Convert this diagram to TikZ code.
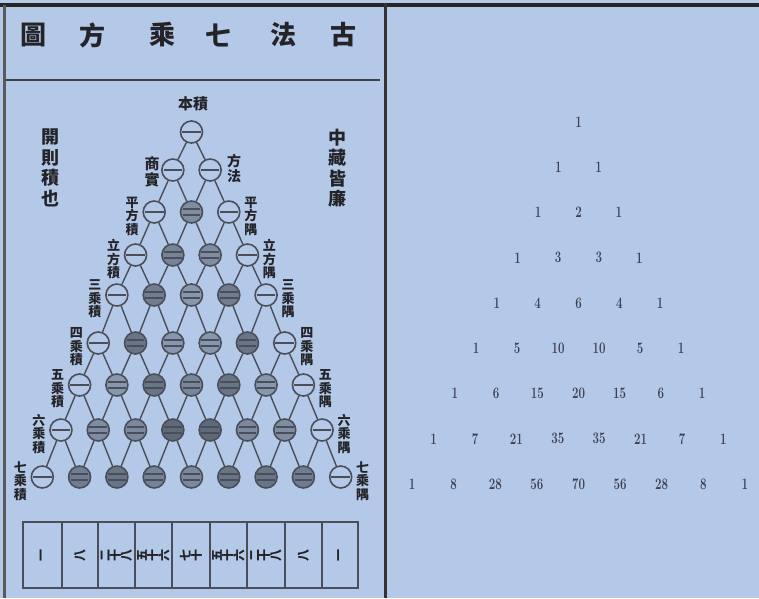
\documentclass[tikz,border=0pt]{standalone}
\usepackage{fontspec}
\usepackage{graphicx}
\newfontfamily\cjk{Noto Sans CJK TC}
\definecolor{bg}{RGB}{180,201,232}
\definecolor{ink}{RGB}{35,35,40}
\definecolor{lineg}{RGB}{75,78,88}
\definecolor{numc}{RGB}{60,64,80}
\begin{document}
\begin{tikzpicture}[x=1pt,y=-1pt,
  cell/.style={circle,draw=lineg,line width=1.6pt,minimum size=22pt,inner sep=0pt},
  conn/.style={draw=lineg,line width=1.4pt},
  han/.style={text=ink,font=\cjk\bfseries,inner sep=0pt},
  title/.style={han,font=\cjk\bfseries\fontsize{26}{26}\selectfont},
  lab/.style={han,font=\cjk\bfseries\fontsize{13}{13.5}\selectfont,align=center},
  side/.style={han,font=\cjk\bfseries\fontsize{18}{20.5}\selectfont,align=center},
  num/.style={text=numc,font=\bfseries\fontsize{16}{16}\selectfont,inner sep=0pt},
  frame/.style={draw=lineg,line width=1.8pt}]
\fill[bg] (0,0) rectangle (759,598);
\useasboundingbox (0,0) rectangle (759,598);
% borders
\draw[black!85,line width=4pt] (0,5) -- (759,5);
\draw[gray!70!black,line width=3pt] (4.5,5) -- (4.5,598);
\draw[black!80,line width=2.5pt] (385.5,3) -- (385.5,598);
\draw[black!75,line width=2pt] (6,80) -- (380,80);
% title
\foreach \ch/\xx [count=\i] in {圖/33,方/92,乘/162,七/218,法/283,古/343}
  \node[title] (t\i) at (\xx,35) {\ch};
% side texts
\node[side] (sl) at (50,168) {開\\則\\積\\也};
\node[side] (sr) at (337,168) {中\\藏\\皆\\廉};
% circles
\foreach \r/\yy/\vals in {0/132/{0},1/170/{0,0},2/212/{0,30,0},3/255/{0,35,30,0},
  4/295/{0,38,25,38,0},5/343/{0,42,25,25,42,0},6/385/{0,25,42,33,42,25,0},
  7/430/{0,30,32,48,48,32,30,0},8/477/{0,38,42,35,32,42,42,38,0}}{
  \foreach \d [count=\kk from 0] in \vals {
    \node[cell,fill=black!\d!bg] (c-\r-\kk) at ({191.5+37.3*(\kk-\r/2)},\yy) {};
    \ifnum\d=0
      \draw[lineg,line width=2.2pt] ([xshift=2.5pt]c-\r-\kk.west) -- ([xshift=-2.5pt]c-\r-\kk.east);
    \else
      \draw[lineg,line width=1.3pt] ([xshift=3pt,yshift=-3pt]c-\r-\kk.west) -- ([xshift=-3pt,yshift=-3pt]c-\r-\kk.east);
      \draw[lineg,line width=1.3pt] ([xshift=3pt,yshift=3pt]c-\r-\kk.west) -- ([xshift=-3pt,yshift=3pt]c-\r-\kk.east);
    \fi
  }
}
% connectors
\foreach \r in {0,...,7}{
  \pgfmathtruncatemacro\rn{\r+1}
  \foreach \k in {0,...,\r}{
    \pgfmathtruncatemacro\kn{\k+1}
    \draw[conn] (c-\r-\k) -- (c-\rn-\k);
    \draw[conn] (c-\r-\k) -- (c-\rn-\kn);
  }
}
% labels
\node[han,font=\cjk\bfseries\fontsize{15}{15}\selectfont] (top) at (193,104) {本積};
\node[lab,font=\cjk\bfseries\fontsize{15}{16}\selectfont] (l1) at (152,172) {商\\實};
\node[lab,font=\cjk\bfseries\fontsize{14}{15}\selectfont] (r1) at (234,169) {方\\法};
\foreach \r/\pa/\pb in {2/平/方,3/立/方,4/三/乘,5/四/乘,6/五/乘,7/六/乘,8/七/乘}{
  \pgfmathsetmacro\yy{{132,170,212,255,295,343,385,430,477}[\r]}
  \node[lab] (l\r) at ({191.5-37.3*\r/2-22},\yy+4) {\pa\\\pb\\積};
  \node[lab] (r\r) at ({191.5+37.3*\r/2+22},\yy+4) {\pa\\\pb\\隅};
}
% bottom box
\draw[frame] (23,522) rectangle (358,588);
\foreach \xx in {62,98,135,172,210,247,285,322}
  \draw[frame] (\xx,522) -- (\xx,588);
\foreach \xa/\xb/\tx [count=\i] in {23/62/{一},62/98/{八},98/135/{二,十,八},135/172/{五,十,六},172/210/{七,十},210/247/{五,十,六},247/285/{二,十,八},285/322/{八},322/358/{一}}{
  \node[han,font=\cjk\bfseries\fontsize{12}{12}\selectfont] (b\i) at ({(\xa+\xb)/2},555)
    {\foreach \c in \tx {\rotatebox{90}{\c}}};
}
% right triangle
\foreach \r/\vals in {0/{1},1/{1,1},2/{1,2,1},3/{1,3,3,1},4/{1,4,6,4,1},5/{1,5,10,10,5,1},
  6/{1,6,15,20,15,6,1},7/{1,7,21,35,35,21,7,1},8/{1,8,28,56,70,56,28,8,1}}{
  \foreach \v [count=\kk from 0] in \vals
    \node[num] (n-\r-\kk) at ({578.5+(40+0.2*\r)*(\kk-\r/2)},{122+45.25*\r}) {\scalebox{0.72}[1]{\v}};
}
\end{tikzpicture}
\end{document}
